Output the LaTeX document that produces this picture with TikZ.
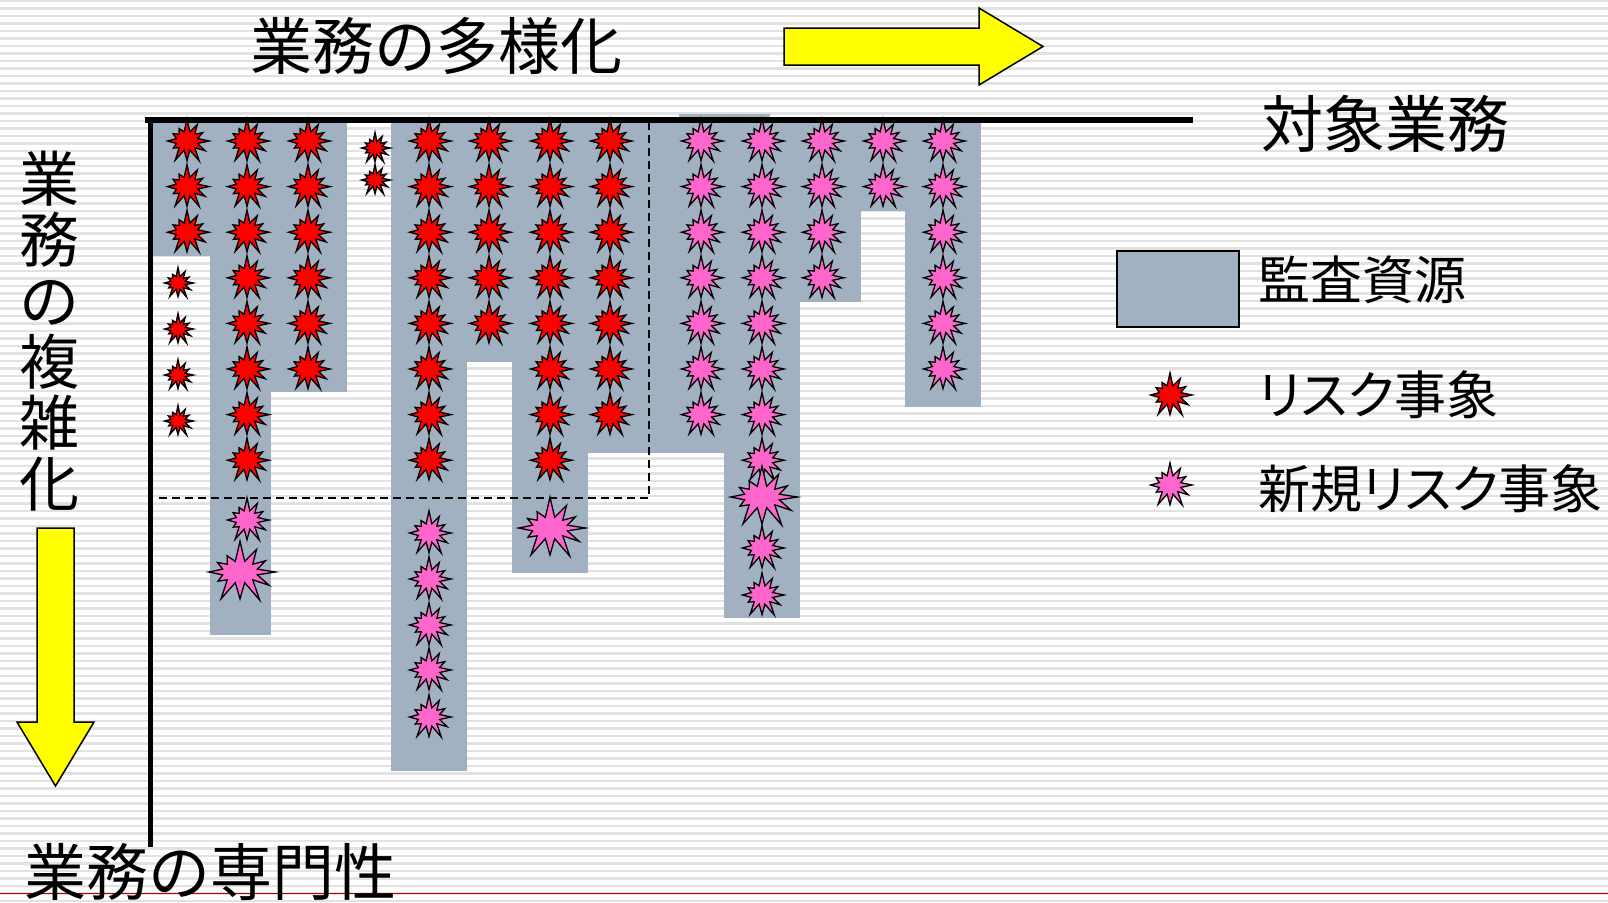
\documentclass[tikz,border=0pt]{standalone}
\usepackage{fontspec}
\setmainfont{Noto Sans CJK JP}
\newfontfamily\jpprop{Noto Sans CJK JP}[RawFeature=+palt]
\usepackage{tikz}
\usetikzlibrary{shapes.symbols, positioning}
\definecolor{auditgrey}{RGB}{162,177,193}
\definecolor{riskred}{RGB}{255,0,0}
\definecolor{newpink}{RGB}{255,102,204}
\definecolor{arrowyellow}{RGB}{255,255,0}
\definecolor{stripegrey}{RGB}{226,226,226}
\definecolor{seamred}{RGB}{192,0,0}
\tikzset{
    riskstar/.style={starburst, starburst points=12, starburst point height=14pt,
        random starburst=7, minimum width=50pt, minimum height=47pt, inner sep=0pt,
        draw=black, line width=1.3pt, fill=riskred},
    newstar/.style={riskstar, fill=newpink},
    smallstar/.style={riskstar, minimum width=35pt, minimum height=33pt, starburst point height=10pt},
    bigstar/.style={newstar, minimum width=80pt, minimum height=66pt, starburst point height=22pt},
    bigtext/.style={inner sep=0pt, font=\fontsize{62}{62}\selectfont},
    legtext/.style={inner sep=0pt, anchor=west, font=\jpprop\fontsize{52}{52}\selectfont},
    bigarrow/.style={fill=arrowyellow, draw=black, line width=1.5pt}
}

\begin{document}
\begin{tikzpicture}[x=1pt, y=-1pt]
        \useasboundingbox (0,0) rectangle (1608,902);
        % striped background
        \fill[white] (0,0) rectangle (1608,902);
        \foreach \y in {1,8.5,...,902}
        {
            \draw[stripegrey, line width=2.5pt](0,\y)--(1608,\y);
        }
        \draw[seamred, line width=1pt](0,893)--(1608,893);

        % audit resources
        \fill[auditgrey](153,117) rectangle (210,256);
        \fill[auditgrey](210,117) rectangle (271,635);
        \fill[auditgrey](271,117) rectangle (347,392);
        \fill[auditgrey](391,117) rectangle (467,771);
        \fill[auditgrey](467,117) rectangle (512,362);
        \fill[auditgrey](512,117) rectangle (588,573);
        \fill[auditgrey](588,117) rectangle (724,453);
        \fill[auditgrey](724,117) rectangle (800,618);
        \fill[auditgrey](800,117) rectangle (861,302);
        \fill[auditgrey](861,117) rectangle (905,211);
        \fill[auditgrey](905,117) rectangle (981,407);
        \fill[auditgrey](679,114) rectangle (770,120);

        % present / future boundary
        \draw[dashed, dash pattern=on 8pt off 5pt, line width=2pt](159,498)--(649,498)--(649,123);

        % risk events
        \foreach \x/\n/\k in {187/1/2, 247/2/7, 308/3/5, 429/4/7, 489/5/4, 550/6/7, 610/7/6}
        {
            \foreach \r in {0,...,\k}
                \node[riskstar] (risk\n-\r) at (\x,{141+45.6*\r}) {};
        }
        \foreach \y [count=\i] in {283,329,375,421}
            \node[smallstar] (riskS\i) at (178,\y) {};
        \node[smallstar] (riskG1) at (375,148) {};
        \node[smallstar] (riskG2) at (375,180) {};

        % new risk events
        \foreach \x/\n/\k in {701/8/6, 762/9/7, 822/10/3, 883/11/1, 943/12/5}
        {
            \foreach \r in {0,...,\k}
                \node[newstar] (new\n-\r) at (\x,{141+45.6*\r}) {};
        }
        \node[newstar] (new2-a) at (247,520) {};
        \foreach \y [count=\i] in {533,579,625,670,717}
            \node[newstar] (new4-\i) at (429,\y) {};
        \node[newstar] (new9-a) at (762,548) {};
        \node[newstar] (new9-b) at (762,595) {};
        \node[bigstar] (big2) at (240,572) {};
        \node[bigstar] (big6) at (550,528) {};
        \node[bigstar] (big9) at (762,497) {};

        % axes
        \draw[line width=6pt](145,120)--(1193,120);
        \draw[line width=5pt](150,117)--(150,847);

        % labels and arrows
        \node[bigtext] (diverse) at (436,46) {業務の多様化};
        \draw[bigarrow](784,28)--(979,28)--(979,8)--(1043,46.5)--(979,85)--(979,65)--(784,65)--cycle;
        \node[bigtext] (target) at (1385,124) {対象業務};
        \node[bigtext, align=center, font=\fontsize{60}{61}\selectfont] (complex) at (49.5,331)
            {業\\務\\の\\複\\雑\\化};
        \draw[bigarrow](37,528)--(74,528)--(74,722)--(94,722)--(55.5,786)--(17,722)--(37,722)--cycle;
        \node[bigtext] (special) at (210,872) {業務の専門性};

        % legend
        \node[draw=black, line width=2pt, fill=auditgrey, minimum width=122pt, minimum height=76pt]
            (legbox) at (1178,289) {};
        \node[legtext] (legaudit) at (1258,280) {監査資源};
        \node[riskstar] (legrisk) at (1170,395) {};
        \node[legtext] (legrisktext) at (1258,395) {リスク事象};
        \node[newstar] (legnew) at (1170,485) {};
        \node[legtext] (legnewtext) at (1258,489) {新規リスク事象};
    \end{tikzpicture}
\end{document}
